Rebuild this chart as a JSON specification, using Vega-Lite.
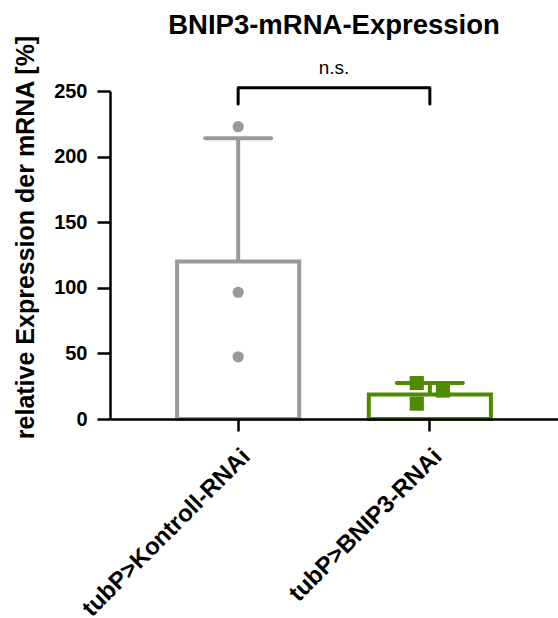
{
  "$schema": "https://vega.github.io/schema/vega-lite/v6.json",
  "width": 448,
  "height": 328,
  "autosize": {"type": "none"},
  "padding": {"left": 110, "top": 91, "right": 0, "bottom": 199},
  "background": "white",
  "config": {"view": {"stroke": null}, "font": "Liberation Sans"},
  "title": {"text": "BNIP3-mRNA-Expression", "fontSize": 27.5, "fontWeight": "bold", "font": "Liberation Sans", "color": "black", "anchor": "middle", "offset": -5},
  "datasets": {
    "mittel": [
      {"Gruppe": "tubP>Kontroll-RNAi", "Mittelwert": 120, "Obergrenze": 214},
      {"Gruppe": "tubP>BNIP3-RNAi", "Mittelwert": 18.7, "Obergrenze": 27.4}
    ],
    "einzel": [
      {"Gruppe": "tubP>Kontroll-RNAi", "Replikat": 1, "Wert": 222.8},
      {"Gruppe": "tubP>Kontroll-RNAi", "Replikat": 2, "Wert": 96.6},
      {"Gruppe": "tubP>Kontroll-RNAi", "Replikat": 3, "Wert": 47.4},
      {"Gruppe": "tubP>BNIP3-RNAi", "Replikat": 1, "Wert": 27.4},
      {"Gruppe": "tubP>BNIP3-RNAi", "Replikat": 2, "Wert": 11.7},
      {"Gruppe": "tubP>BNIP3-RNAi", "Replikat": 3, "Wert": 21.7}
    ],
    "klammer": [
      {"Gruppe": "tubP>Kontroll-RNAi", "bis": "tubP>BNIP3-RNAi", "oben": 252.5, "unten": 240, "Text": "n.s.", "Textpos": 263}
    ],
    "beine": [
      {"Gruppe": "tubP>Kontroll-RNAi", "oben": 252.5, "unten": 240},
      {"Gruppe": "tubP>BNIP3-RNAi", "oben": 252.5, "unten": 240}
    ]
  },
  "encoding": {
    "x": {
      "field": "Gruppe", "type": "nominal", "sort": ["tubP>Kontroll-RNAi", "tubP>BNIP3-RNAi"],
      "scale": {"domain": ["tubP>Kontroll-RNAi", "tubP>BNIP3-RNAi"], "paddingInner": 0.363, "paddingOuter": 0.35},
      "axis": {"title": null, "labelAngle": -45, "labelFontSize": 24, "labelFontWeight": "bold", "labelColor": "black", "labelFont": "Liberation Sans", "labelLimit": 0, "tickSize": 12, "tickWidth": 2.5, "tickColor": "black", "domainWidth": 2.5, "domainColor": "black", "labelPadding": 13, "labelDx": -3, "zindex": 1}
    }
  },
  "layer": [
    {
      "data": {"name": "mittel"},
      "mark": {"type": "bar", "fill": "white", "strokeWidth": 4},
      "encoding": {
        "y": {
          "field": "Mittelwert", "type": "quantitative",
          "scale": {"domain": [0, 250], "nice": false},
          "axis": {"values": [0, 50, 100, 150, 200, 250], "grid": false, "labelFontSize": 20, "labelFontWeight": "bold", "labelColor": "black", "labelFont": "Liberation Sans", "tickSize": 13, "tickWidth": 2.5, "tickColor": "black", "domainWidth": 2.5, "domainColor": "black", "labelPadding": 10, "zindex": 1,
            "title": "relative Expression der mRNA [%]", "titleFontSize": 25, "titleFontWeight": "bold", "titleFont": "Liberation Sans", "titleColor": "black", "titleX": -72, "titleY": 146}
        },
        "stroke": {"field": "Gruppe", "type": "nominal", "scale": {"domain": ["tubP>Kontroll-RNAi", "tubP>BNIP3-RNAi"], "range": ["#999999", "#4e8b00"]}, "legend": null}
      }
    },
    {
      "data": {"name": "mittel"},
      "mark": {"type": "rule", "strokeWidth": 4},
      "encoding": {
        "y": {"field": "Mittelwert", "type": "quantitative"},
        "y2": {"field": "Obergrenze"},
        "color": {"field": "Gruppe", "type": "nominal", "scale": {"domain": ["tubP>Kontroll-RNAi", "tubP>BNIP3-RNAi"], "range": ["#999999", "#4e8b00"]}, "legend": null}
      }
    },
    {
      "data": {"name": "mittel"},
      "mark": {"type": "tick", "size": 70, "thickness": 4, "cornerRadius": 2, "opacity": 1},
      "encoding": {
        "y": {"field": "Obergrenze", "type": "quantitative"},
        "color": {"field": "Gruppe", "type": "nominal", "legend": null}
      }
    },
    {
      "data": {"name": "einzel"},
      "transform": [{"filter": "datum.Gruppe == 'tubP>Kontroll-RNAi'"}],
      "mark": {"type": "circle", "size": 125, "opacity": 1},
      "encoding": {
        "y": {"field": "Wert", "type": "quantitative"},
        "color": {"field": "Gruppe", "type": "nominal", "legend": null}
      }
    },
    {
      "data": {"name": "einzel"},
      "transform": [{"filter": "datum.Gruppe == 'tubP>BNIP3-RNAi' && datum.Replikat != 3"}],
      "mark": {"type": "square", "size": 200, "opacity": 1},
      "encoding": {
        "x": {"field": "Gruppe", "type": "nominal", "bandPosition": 0.393},
        "y": {"field": "Wert", "type": "quantitative"},
        "color": {"field": "Gruppe", "type": "nominal", "legend": null}
      }
    },
    {
      "data": {"name": "einzel"},
      "transform": [{"filter": "datum.Gruppe == 'tubP>BNIP3-RNAi' && datum.Replikat == 3"}],
      "mark": {"type": "square", "size": 200, "opacity": 1},
      "encoding": {
        "x": {"field": "Gruppe", "type": "nominal", "bandPosition": 0.607},
        "y": {"field": "Wert", "type": "quantitative"},
        "color": {"field": "Gruppe", "type": "nominal", "legend": null}
      }
    },
    {
      "data": {"name": "klammer"},
      "mark": {"type": "rule", "strokeWidth": 3, "color": "black", "clip": false},
      "encoding": {
        "x2": {"field": "bis"},
        "y": {"field": "oben", "type": "quantitative"}
      }
    },
    {
      "data": {"name": "beine"},
      "mark": {"type": "rule", "strokeWidth": 3, "color": "black", "clip": false, "strokeCap": "round"},
      "encoding": {
        "y": {"field": "unten", "type": "quantitative"},
        "y2": {"field": "oben"}
      }
    },
    {
      "data": {"name": "klammer"},
      "mark": {"type": "text", "fontSize": 19, "font": "Liberation Sans", "color": "black", "baseline": "alphabetic", "align": "center", "clip": false},
      "encoding": {
        "x": null,
        "y": {"field": "Textpos", "type": "quantitative"},
        "text": {"field": "Text"}
      }
    }
  ]
}
